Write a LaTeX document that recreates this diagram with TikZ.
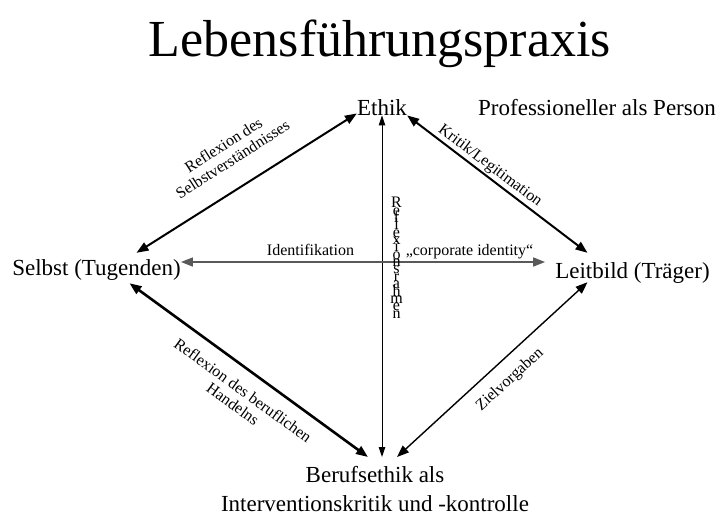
\documentclass[tikz,border=0pt]{standalone}
\usepackage{fontspec}
\setmainfont{Liberation Serif}
\usetikzlibrary{arrows.meta,calc}
\newcommand{\stackletter}[1]{\hbox to 12pt{\hss#1\hss}}
\begin{document}
\begin{tikzpicture}[x=1pt,y=-1pt,
  nodetext/.style={font=\fontsize{23}{29}\selectfont, inner sep=0pt},
  lab/.style={font=\fontsize{16}{17}\selectfont, inner sep=0pt, align=center},
  bigarrow/.style={{Triangle[length=12pt,width=9pt]}-{Triangle[length=12pt,width=9pt]}},
  smallarrow/.style={{Triangle[length=10pt,width=6.5pt]}-{Triangle[length=10pt,width=6.5pt]}}
]
\useasboundingbox (0,0) rectangle (720,515);

% nodes
\node[font=\fontsize{52}{60}\selectfont, anchor=base, inner sep=0pt] (title) at (380,56) {Lebensführungspraxis};
\node[nodetext, anchor=base] (ethik) at (382,115) {Ethik};
\node[nodetext, anchor=base west] (prof) at (478,115) {Professioneller als Person};
\node[nodetext, text height=22pt, text depth=8pt] (selbst) at (96.5,268) {Selbst (Tugenden)};
\node[nodetext, text height=25pt, text depth=4pt, inner xsep=10pt] (leitbild) at (632.5,267.5) {Leitbild (Träger)};
\node[nodetext, align=center, anchor=north, inner ysep=9pt] (beruf) at (375,457) {Berufsethik als\\Interventionskritik und -kontrolle};

% connectors
\draw[line width=2pt, bigarrow] ([yshift=2pt]ethik.south west) -- ([xshift=40pt]selbst.north);
\draw[line width=2pt, bigarrow] (ethik.south east) -- ([xshift=-45pt]leitbild.north);
\draw[line width=2.6pt, bigarrow] ([xshift=33pt]selbst.south) -- ([xshift=-7pt]beruf.north);
\draw[line width=1.4pt, bigarrow] ([xshift=-45pt]leitbild.south) -- ([xshift=22pt]beruf.north);
\draw[line width=1pt, smallarrow] (ethik.south) -- (ethik.south |- beruf.north);
\draw[line width=1.5pt, black!65, bigarrow] ([yshift=6pt]selbst.east) -- ([yshift=5.5pt]leitbild.west);

% labels
\node[lab, rotate=32.7] (l1) at (228,152) {Reflexion des\\Selbstverständnisses};
\node[lab, rotate=-37] (l2) at (490,166) {Kritik/Legitimation};
\node[lab, rotate=-36] (l3) at (238,397) {Reflexion des beruflichen\\Handelns};
\node[lab, rotate=42.5] (l4) at (510,380) {Zielvorgaben};
\node[lab, anchor=base] (ident) at (310.5,255) {Identifikation};
\node[lab, anchor=base] (corp) at (469.5,255) {„corporate identity“};
\node[font=\fontsize{16}{8}\selectfont, anchor=north, inner sep=0pt] (rahmen) at (396.5,197)
  {\vbox{\baselineskip=7.36pt\lineskiplimit=-50pt\lineskip=0pt
   \stackletter{R}\stackletter{e}\stackletter{f}\stackletter{l}\stackletter{e}\stackletter{x}\stackletter{i}\stackletter{o}%
   \stackletter{n}\stackletter{s}\stackletter{r}\stackletter{a}\stackletter{h}\stackletter{m}\stackletter{e}\stackletter{n}}};
\end{tikzpicture}
\end{document}
